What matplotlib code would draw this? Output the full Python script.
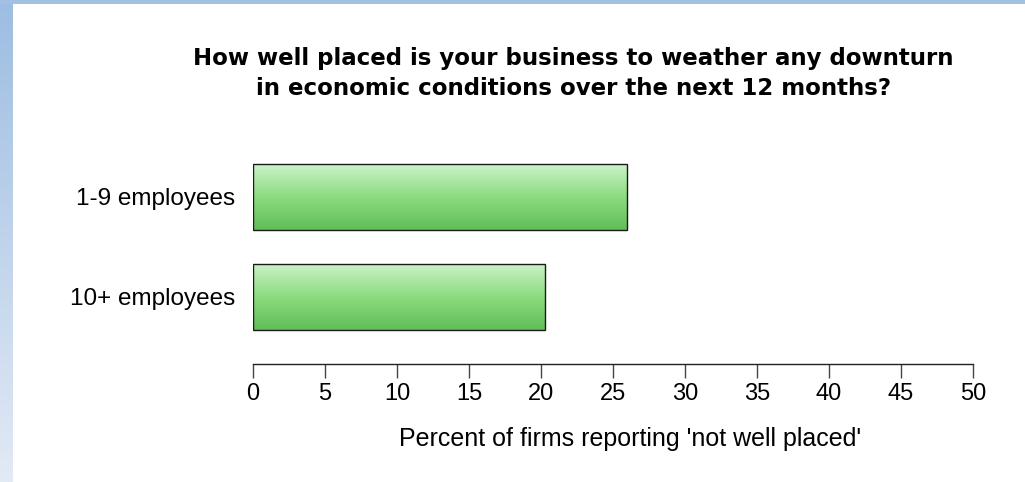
import numpy as np
import matplotlib.pyplot as plt
from matplotlib.colors import LinearSegmentedColormap

categories = ["1-9 employees", "10+ employees"]
values = [26.0, 20.3]
xticks = [0, 5, 10, 15, 20, 25, 30, 35, 40, 45, 50]

fig = plt.figure(figsize=(10.25, 4.82), dpi=100)
fig.patch.set_facecolor("white")

# blue frame on the left and top edges
frame = fig.add_axes([0, 0, 13 / 1025, 1])
frame_cmap = LinearSegmentedColormap.from_list("frame", ["#9dbde2", "#e2eaf5"])
frame.imshow(np.linspace(0, 1, 256).reshape(-1, 1), aspect="auto", cmap=frame_cmap,
             extent=[0, 1, 0, 1], origin="upper")
frame.axis("off")
top = fig.add_axes([0, 1 - 4 / 482, 1, 4 / 482])
top.set_facecolor("#a3c0e2")
top.set_xticks([])
top.set_yticks([])
for s in top.spines.values():
    s.set_visible(False)

ax = fig.add_axes([253 / 1025, 1 - 364 / 482, 720 / 1025, 214 / 482])

bars = ax.barh(range(len(categories)), values, height=0.66, color="none",
               edgecolor="#1a1a1a", linewidth=1.0, zorder=3)

# vertical green gradient inside each bar
bar_cmap = LinearSegmentedColormap.from_list("bar", ["#cbf2c8", "#8cdc80", "#60bd58"])
grad = np.linspace(0, 1, 256).reshape(-1, 1)
for bar in bars:
    x0, y0 = bar.get_x(), bar.get_y()
    w, h = bar.get_width(), bar.get_height()
    im = ax.imshow(grad, aspect="auto", cmap=bar_cmap, origin="upper",
                   extent=[x0, x0 + w, y0 + h, y0], zorder=2)
    im.set_clip_path(bar)
ax.set_xlim(0, 50)
ax.set_ylim(1.67, -0.47)

for side in ["left", "right", "top"]:
    ax.spines[side].set_visible(False)
ax.spines["bottom"].set_color("#222222")
ax.spines["bottom"].set_linewidth(1.0)

font = "Liberation Sans"
ax.set_xticks(xticks)
ax.set_xticklabels([str(t) for t in xticks], fontsize=17, family=font)
ax.tick_params(axis="x", direction="out", length=10, width=1, color="#444444", pad=4)
ax.set_yticks(range(len(categories)))
ax.set_yticklabels(categories, fontsize=17.5, family=font)
ax.tick_params(axis="y", length=0, pad=13)

ax.set_xlabel("Percent of firms reporting 'not well placed'", fontsize=18,
              family=font)
ax.xaxis.set_label_coords(0.5236, (364 - 427) / 214)

title_lines = ["How well placed is your business to weather any downturn",
               "in economic conditions over the next 12 months?"]
fig.text(573.5 / 1025, 1 - 65 / 482, title_lines[0], ha="center", va="baseline",
         fontsize=16.5, fontweight="bold", family="DejaVu Sans")
fig.text(573.5 / 1025, 1 - 95 / 482, title_lines[1], ha="center", va="baseline",
         fontsize=16.5, fontweight="bold", family="DejaVu Sans")

fig.savefig("out.png", dpi=100)
